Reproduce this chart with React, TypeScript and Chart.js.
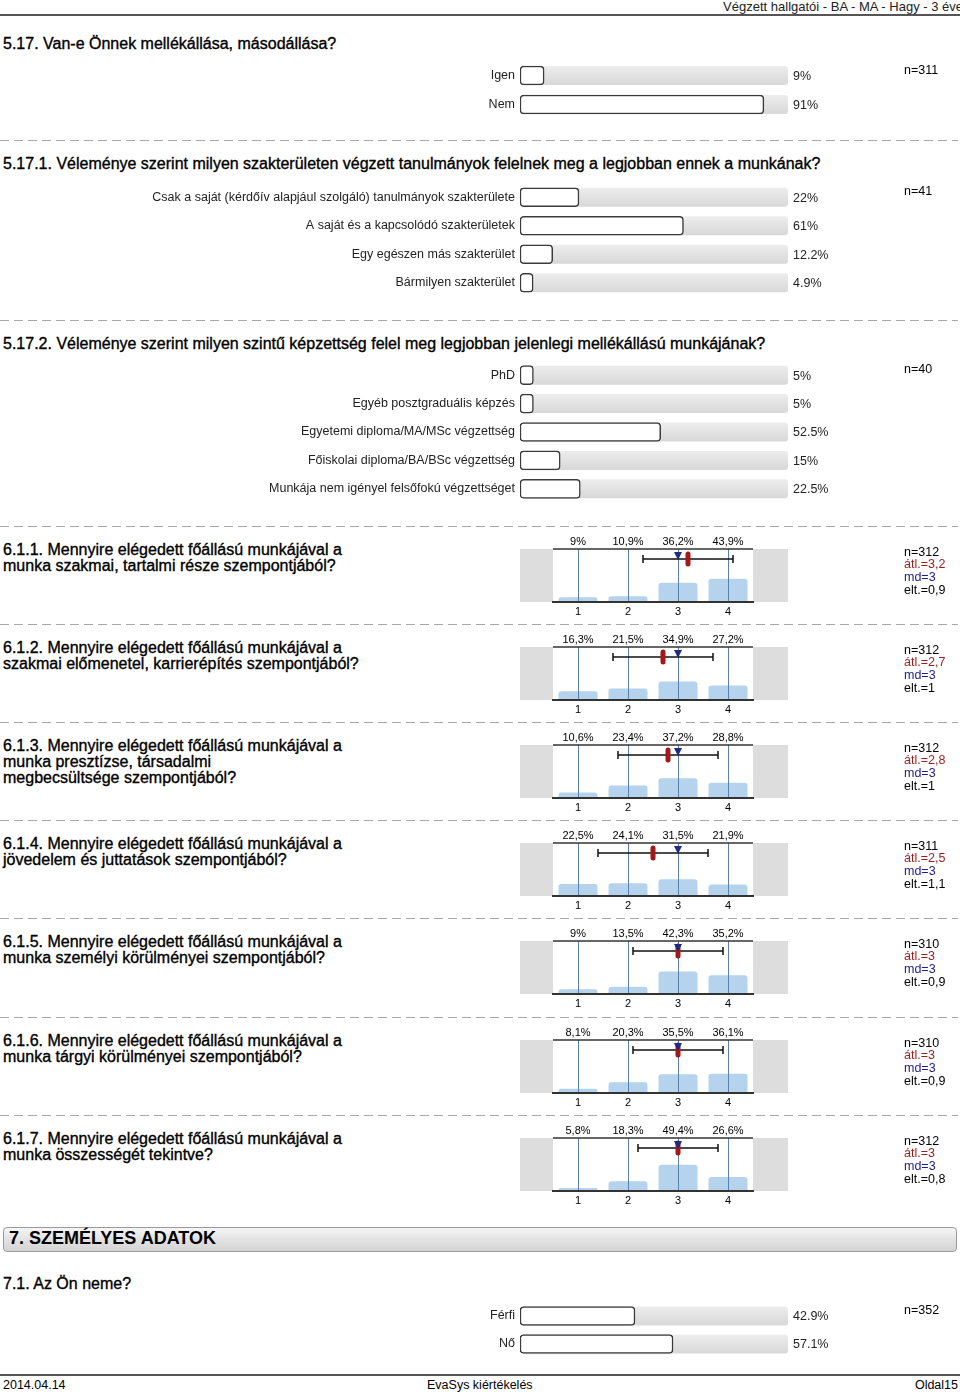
import React, { useEffect, useRef } from "react";
import { Chart, registerables } from "chart.js";
Chart.register(...registerables);

const FONT = "'Liberation Sans', Arial, Helvetica, sans-serif";

// ---------- data ----------
const q517Labels = ["Igen", "Nem"];
const q517Values = [9, 91];
const q517Text = ["9%", "91%"];

const q5171Labels = [
  "Csak a saját (kérdőív alapjául szolgáló) tanulmányok szakterülete",
  "A saját és a kapcsolódó szakterületek",
  "Egy egészen más szakterület",
  "Bármilyen szakterület",
];
const q5171Values = [22, 61, 12.2, 4.9];
const q5171Text = ["22%", "61%", "12.2%", "4.9%"];

const q5172Labels = [
  "PhD",
  "Egyéb posztgraduális képzés",
  "Egyetemi diploma/MA/MSc végzettség",
  "Főiskolai diploma/BA/BSc végzettség",
  "Munkája nem igényel felsőfokú végzettséget",
];
const q5172Values = [5, 5, 52.5, 15, 22.5];
const q5172Text = ["5%", "5%", "52.5%", "15%", "22.5%"];

const q71Labels = ["Férfi", "Nő"];
const q71Values = [42.9, 57.1];
const q71Text = ["42.9%", "57.1%"];

const scaleCategories = ["1", "2", "3", "4"];
const q611 = [9, 10.9, 36.2, 43.9];
const q612 = [16.3, 21.5, 34.9, 27.2];
const q613 = [10.6, 23.4, 37.2, 28.8];
const q614 = [22.5, 24.1, 31.5, 21.9];
const q615 = [9, 13.5, 42.3, 35.2];
const q616 = [8.1, 20.3, 35.5, 36.1];
const q617 = [5.8, 18.3, 49.4, 26.6];
const histValues = [q611, q612, q613, q614, q615, q616, q617];
const histN = [312, 312, 312, 311, 310, 310, 312];
const histMean = [3.2, 2.7, 2.8, 2.5, 3, 3, 3];
const histMedian = [3, 3, 3, 3, 3, 3, 3];
const histSd = [0.9, 1, 1, 1.1, 0.9, 0.9, 0.8];
const histTitles = [
  ["6.1.1. Mennyire elégedett főállású munkájával a", "munka szakmai, tartalmi része szempontjából?"],
  ["6.1.2. Mennyire elégedett főállású munkájával a", "szakmai előmenetel, karrierépítés szempontjából?"],
  ["6.1.3. Mennyire elégedett főállású munkájával a", "munka presztízse, társadalmi", "megbecsültsége szempontjából?"],
  ["6.1.4. Mennyire elégedett főállású munkájával a", "jövedelem és juttatások szempontjából?"],
  ["6.1.5. Mennyire elégedett főállású munkájával a", "munka személyi körülményei szempontjából?"],
  ["6.1.6. Mennyire elégedett főállású munkájával a", "munka tárgyi körülményei szempontjából?"],
  ["6.1.7. Mennyire elégedett főállású munkájával a", "munka összességét tekintve?"],
];
const histPlotTops = [549, 647, 745, 843, 941, 1040, 1138];
const dashedYs = [140, 320, 526, 624, 722, 820, 918, 1017, 1115];

const comma = (v: number) => String(v).replace(".", ",");

// ---------- helpers ----------
function Txt(props: {
  x?: number;
  right?: number;
  y: number;
  size?: number;
  color?: string;
  bold?: boolean;
  heavy?: boolean;
  children: React.ReactNode;
}) {
  const size = props.size ?? 12.5;
  const style: React.CSSProperties = {
    position: "absolute",
    top: props.y - size * 0.6,
    fontSize: size,
    lineHeight: `${size * 1.2}px`,
    color: props.color ?? "#000",
    fontWeight: props.bold ? "bold" : "normal",
    whiteSpace: "nowrap",
  };
  if (props.heavy) (style as any).WebkitTextStroke = "0.35px #000";
  if (props.right !== undefined) style.right = props.right;
  else style.left = props.x ?? 0;
  return <div style={style}>{props.children}</div>;
}

function Dashed({ y }: { y: number }) {
  return (
    <div
      style={{
        position: "absolute",
        left: 0,
        top: y,
        width: 958,
        height: 1,
        background: "repeating-linear-gradient(to right, #a8a8a8 0px, #a8a8a8 9px, transparent 9px, transparent 14px)",
      }}
    />
  );
}

const BAR_H = 19;

function HBar(props: { labels: string[]; values: number[]; texts: string[]; top: number; height: number }) {
  const ref = useRef<HTMLCanvasElement>(null);
  useEffect(() => {
    const texts = props.texts;
    const plugin = {
      id: "trackAndText",
      beforeDatasetsDraw(chart: any) {
        const { ctx } = chart;
        const xs = chart.scales.x;
        const ys = chart.scales.y;
        const x0 = xs.getPixelForValue(0);
        const x1 = xs.getPixelForValue(100);
        props.values.forEach((_v, i) => {
          const y = ys.getPixelForValue(i);
          const g = ctx.createLinearGradient(0, y - BAR_H / 2, 0, y + BAR_H / 2);
          g.addColorStop(0, "#ededed");
          g.addColorStop(1, "#d8d8d8");
          ctx.save();
          ctx.fillStyle = g;
          ctx.beginPath();
          ctx.roundRect(x0, y - BAR_H / 2, x1 - x0, BAR_H, 3);
          ctx.fill();
          ctx.restore();
        });
      },
      afterDatasetsDraw(chart: any) {
        const { ctx } = chart;
        const ys = chart.scales.y;
        ctx.save();
        ctx.fillStyle = "#222";
        ctx.font = `12.5px ${FONT}`;
        ctx.textBaseline = "middle";
        ctx.textAlign = "left";
        texts.forEach((t, i) => ctx.fillText(t, 793, ys.getPixelForValue(i) + 1));
        ctx.restore();
      },
    };
    const chart = new Chart(ref.current as HTMLCanvasElement, {
      type: "bar",
      data: {
        labels: props.labels,
        datasets: [
          {
            data: props.values,
            backgroundColor: "#ffffff",
            borderColor: "#3a3a3a",
            borderWidth: 1.5,
            borderRadius: 4,
            borderSkipped: false,
            barThickness: BAR_H,
          } as any,
        ],
      },
      options: {
        indexAxis: "y",
        animation: false,
        responsive: false,
        events: [],
        plugins: { legend: { display: false }, tooltip: { enabled: false } },
        layout: { padding: { left: 0, right: 172, top: 0, bottom: 0 } },
        scales: {
          x: { display: false, min: 0, max: 100 },
          y: {
            grid: { display: false, drawTicks: false },
            border: { display: false },
            ticks: { color: "#222", font: { family: FONT, size: 12.5 }, padding: 5 },
            afterFit: (s: any) => {
              s.width = 520;
              s.paddingTop = 0;
              s.paddingBottom = 0;
            },
          },
        },
      } as any,
      plugins: [plugin],
    });
    return () => chart.destroy();
  }, []);
  return (
    <canvas
      ref={ref}
      width={960}
      height={props.height}
      style={{ position: "absolute", left: 0, top: props.top, width: 960, height: props.height, display: "block" }}
    />
  );
}

function Hist(props: { values: number[]; mean: number; median: number; sd: number; plotTop: number }) {
  const ref = useRef<HTMLCanvasElement>(null);
  const W = 290;
  const H = 91;
  useEffect(() => {
    const { values, mean, median, sd } = props;
    const plugin = {
      id: "histDeco",
      beforeDraw(chart: any) {
        const { ctx, chartArea } = chart;
        ctx.save();
        ctx.fillStyle = "#dddddd";
        ctx.fillRect(10, chartArea.top, chartArea.left - 10, chartArea.bottom - chartArea.top);
        ctx.fillRect(chartArea.right, chartArea.top, 278 - chartArea.right, chartArea.bottom - chartArea.top);
        ctx.restore();
      },
      afterDraw(chart: any) {
        const { ctx, chartArea } = chart;
        const xs = chart.scales.x;
        const top = chartArea.top;
        ctx.save();
        // top line
        ctx.strokeStyle = "#333";
        ctx.lineWidth = 1.5;
        ctx.beginPath();
        ctx.moveTo(chartArea.left, top);
        ctx.lineTo(chartArea.right, top);
        ctx.stroke();
        // percent labels
        ctx.fillStyle = "#000";
        ctx.font = `11px ${FONT}`;
        ctx.textAlign = "center";
        ctx.textBaseline = "middle";
        values.forEach((v, i) => ctx.fillText(`${comma(v)}%`, xs.getPixelForValue(i), top - 7));
        // error bar
        const ey = top + 10;
        const xa = xs.getPixelForValue(mean - sd - 1);
        const xb = xs.getPixelForValue(mean + sd - 1);
        ctx.strokeStyle = "#111";
        ctx.lineWidth = 1.5;
        ctx.beginPath();
        ctx.moveTo(xa, ey);
        ctx.lineTo(xb, ey);
        ctx.moveTo(xa, ey - 4);
        ctx.lineTo(xa, ey + 4);
        ctx.moveTo(xb, ey - 4);
        ctx.lineTo(xb, ey + 4);
        ctx.stroke();
        // mean
        const mx = xs.getPixelForValue(mean - 1);
        ctx.fillStyle = "#a31818";
        ctx.beginPath();
        ctx.roundRect(mx - 2.5, ey - 7.5, 5, 15, 2.5);
        ctx.fill();
        // median
        const dx = xs.getPixelForValue(median - 1);
        ctx.fillStyle = "#1c2a82";
        ctx.beginPath();
        ctx.moveTo(dx - 4, top + 3);
        ctx.lineTo(dx + 4, top + 3);
        ctx.lineTo(dx, top + 11);
        ctx.closePath();
        ctx.fill();
        ctx.restore();
      },
    };
    const chart = new Chart(ref.current as HTMLCanvasElement, {
      type: "bar",
      data: {
        labels: scaleCategories,
        datasets: [
          {
            data: values,
            backgroundColor: "#b5d3ed",
            barPercentage: 0.78,
            categoryPercentage: 1,
            borderRadius: 3,
          } as any,
        ],
      },
      options: {
        animation: false,
        responsive: false,
        events: [],
        plugins: { legend: { display: false }, tooltip: { enabled: false } },
        layout: { padding: { left: 43, right: 47, top: 20, bottom: 0 } },
        scales: {
          x: {
            grid: { offset: false, color: "#5a7fb0", lineWidth: 1, drawTicks: false, z: 1 },
            border: { color: "#333", width: 2, z: 1 },
            ticks: { color: "#000", font: { family: FONT, size: 11 }, padding: 3 },
            afterFit: (s: any) => {
              s.height = 18;
            },
          },
          y: { display: false, min: 0, max: 100 },
        },
      } as any,
      plugins: [plugin],
    });
    return () => chart.destroy();
  }, []);
  return (
    <canvas
      ref={ref}
      width={W}
      height={H}
      style={{ position: "absolute", left: 510, top: props.plotTop - 20, width: W, height: H, display: "block" }}
    />
  );
}

export default function App() {
  useEffect(() => {
    document.body.style.margin = "0";
  }, []);
  return (
    <div
      style={{
        position: "relative",
        width: 960,
        height: 1395,
        overflow: "hidden",
        background: "#fff",
        fontFamily: FONT,
        color: "#000",
      }}
    >
      {/* header */}
      <Txt right={-3} y={6.5} size={13} color="#222">
        Végzett hallgatói - BA - MA - Hagy - 3 éve
      </Txt>
      <div style={{ position: "absolute", left: 0, top: 14, width: 960, height: 2, background: "#555" }} />

      {/* 5.17 */}
      <Txt x={3} y={44} size={16} heavy>
        5.17. Van-e Önnek mellékállása, másodállása?
      </Txt>
      <HBar labels={q517Labels} values={q517Values} texts={q517Text} top={61} height={58} />
      <Txt x={904} y={70}>n=311</Txt>

      {dashedYs.map((y) => (
        <Dashed key={y} y={y} />
      ))}

      {/* 5.17.1 */}
      <Txt x={3} y={164} size={16} heavy>
        5.17.1. Véleménye szerint milyen szakterületen végzett tanulmányok felelnek meg a legjobban ennek a munkának?
      </Txt>
      <HBar labels={q5171Labels} values={q5171Values} texts={q5171Text} top={183} height={114} />
      <Txt x={904} y={191}>n=41</Txt>

      {/* 5.17.2 */}
      <Txt x={3} y={344} size={16} heavy>
        5.17.2. Véleménye szerint milyen szintű képzettség felel meg legjobban jelenlegi mellékállású munkájának?
      </Txt>
      <HBar labels={q5172Labels} values={q5172Values} texts={q5172Text} top={361} height={142} />
      <Txt x={904} y={369}>n=40</Txt>

      {/* 6.1.x */}
      {histValues.map((vals, k) => {
        const top = histPlotTops[k];
        return (
          <React.Fragment key={k}>
            {histTitles[k].map((line, j) => (
              <Txt key={j} x={3} y={top + 1 + j * 16} size={16} heavy>
                {line}
              </Txt>
            ))}
            <Hist values={vals} mean={histMean[k]} median={histMedian[k]} sd={histSd[k]} plotTop={top} />
            <Txt x={904} y={top + 3}>{`n=${histN[k]}`}</Txt>
            <Txt x={904} y={top + 15.7} color="#9b1c1c">{`átl.=${comma(histMean[k])}`}</Txt>
            <Txt x={904} y={top + 28.4} color="#1c1c8c">{`md=${comma(histMedian[k])}`}</Txt>
            <Txt x={904} y={top + 41.1}>{`elt.=${comma(histSd[k])}`}</Txt>
          </React.Fragment>
        );
      })}

      {/* section 7 */}
      <div
        style={{
          position: "absolute",
          left: 3,
          top: 1227,
          width: 952,
          height: 23,
          border: "1px solid #9a9a9a",
          borderRadius: 4,
          background: "linear-gradient(#f6f6f6, #e4e4e4 45%, #d4d4d4)",
        }}
      />
      <Txt x={9} y={1239} size={18} bold>
        7. SZEMÉLYES ADATOK
      </Txt>
      <Txt x={3} y={1284} size={16} heavy>
        7.1. Az Ön neme?
      </Txt>
      <HBar labels={q71Labels} values={q71Values} texts={q71Text} top={1302} height={56} />
      <Txt x={904} y={1310}>n=352</Txt>

      {/* footer */}
      <div style={{ position: "absolute", left: 0, top: 1374, width: 960, height: 2, background: "#555" }} />
      <Txt x={3} y={1385} size={12.5}>
        2014.04.14
      </Txt>
      <Txt x={427} y={1385} size={12.5}>
        EvaSys kiértékelés
      </Txt>
      <Txt right={2} y={1385} size={12.5}>
        Oldal15
      </Txt>
    </div>
  );
}
